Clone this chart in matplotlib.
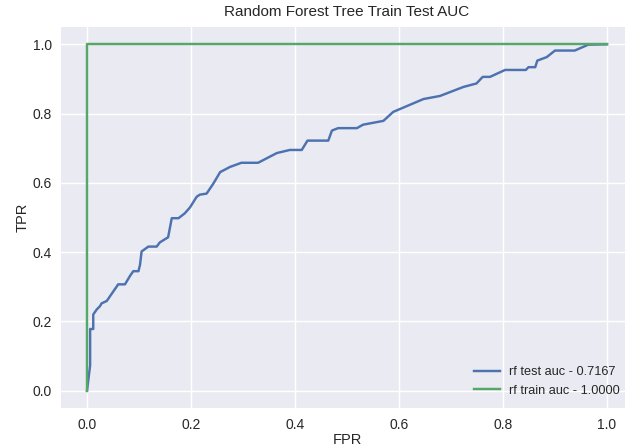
import matplotlib
matplotlib.use("Agg")
import matplotlib.pyplot as plt

fpr_test = [0.0, 0.006, 0.006, 0.012, 0.012, 0.019, 0.025, 0.028, 0.038, 0.060, 0.073,
            0.083, 0.089, 0.099, 0.102, 0.105, 0.118, 0.134, 0.140, 0.156, 0.163, 0.176,
            0.188, 0.198, 0.211, 0.217, 0.230, 0.243, 0.256, 0.275, 0.297, 0.329, 0.365,
            0.390, 0.413, 0.424, 0.464, 0.471, 0.483, 0.519, 0.531, 0.570, 0.589, 0.647,
            0.679, 0.724, 0.749, 0.761, 0.775, 0.804, 0.844, 0.849, 0.862, 0.866, 0.884,
            0.900, 0.938, 0.964, 1.0]
tpr_test = [0.0, 0.073, 0.178, 0.178, 0.220, 0.235, 0.244, 0.252, 0.259, 0.307, 0.307,
            0.332, 0.345, 0.345, 0.364, 0.402, 0.416, 0.416, 0.428, 0.443, 0.498, 0.498,
            0.512, 0.529, 0.560, 0.566, 0.569, 0.598, 0.631, 0.646, 0.658, 0.658, 0.686,
            0.695, 0.695, 0.722, 0.722, 0.751, 0.758, 0.758, 0.768, 0.779, 0.805, 0.842,
            0.851, 0.877, 0.887, 0.906, 0.906, 0.926, 0.926, 0.934, 0.934, 0.953, 0.963,
            0.982, 0.982, 0.999, 1.0]
fpr_train = [0.0, 0.0, 1.0]
tpr_train = [0.0, 1.0, 1.0]
auc_test = 0.7167
auc_train = 1.0000

plt.rcParams.update({
    "font.family": ["Liberation Sans", "DejaVu Sans"],
    "axes.facecolor": "#EAEAF2",
    "axes.edgecolor": "white",
    "grid.color": "white",
    "text.color": ".15",
    "axes.labelcolor": ".15",
    "xtick.color": ".15",
    "ytick.color": ".15",
})

fig = plt.figure(figsize=(6.25, 4.48), dpi=100)
ax = fig.add_axes([61/625, 40/448, 572/625, 381/448])
ax.grid(True, color="white", linewidth=1)
ax.set_axisbelow(True)
for s in ax.spines.values():
    s.set_visible(False)

ax.plot(fpr_test, tpr_test, color="#4C72B0", lw=1.75,
        label=f"rf test auc - {auc_test:.4f}")
ax.plot(fpr_train, tpr_train, color="#55A868", lw=1.75,
        label=f"rf train auc - {auc_train:.4f}")

ax.set_xlim(-0.05, 1.05)
ax.set_ylim(-0.05, 1.05)
ax.set_xticks([0.0, 0.2, 0.4, 0.6, 0.8, 1.0])
ax.set_yticks([0.0, 0.2, 0.4, 0.6, 0.8, 1.0])
ax.tick_params(length=0, labelsize=10, pad=7)
ax.tick_params(axis="y", pad=6.5)
ax.set_xlabel("FPR", fontsize=10.5, labelpad=1)
ax.set_ylabel("TPR", fontsize=10.5, labelpad=2)
ax.set_title("Random Forest Tree Train Test AUC", fontsize=11, pad=8)
leg = ax.legend(loc="lower right", frameon=False, fontsize=9.2,
                bbox_to_anchor=(1.0 - 2/572, 0.0), handletextpad=0.7)

fig.savefig("out.png", dpi=100)
